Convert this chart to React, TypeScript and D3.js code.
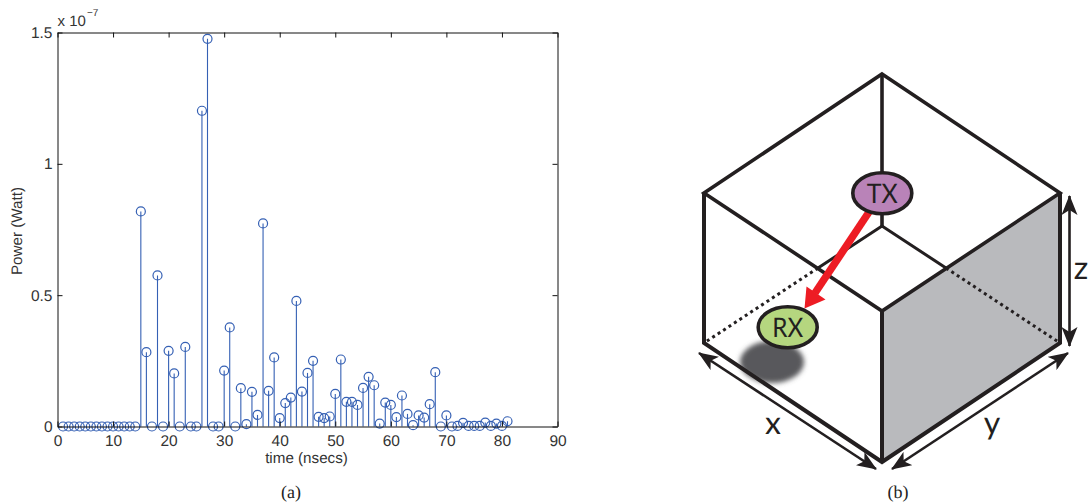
import React, { useEffect, useRef } from "react";
import * as d3 from "d3";

// stem plot values, unit is 1e-7 Watt, first sample is t = 1
const times = d3.range(1, 82);
const power = [
  0, 0, 0, 0, 0, 0, 0, 0, 0, 0, 0, 0, 0, 0,
  0.819, 0.283, 0, 0.575, 0, 0.288, 0.202, 0, 0.303, 0, 0,
  1.202, 1.476, 0, 0, 0.213, 0.377, 0, 0.146, 0.009, 0.132, 0.044,
  0.773, 0.136, 0.263, 0.032, 0.089, 0.11, 0.478, 0.133, 0.204, 0.25,
  0.037, 0.032, 0.038, 0.124, 0.255, 0.094, 0.094, 0.082, 0.147, 0.189,
  0.157, 0.011, 0.091, 0.082, 0.036, 0.118, 0.048, 0.005, 0.042, 0.034,
  0.085, 0.207, 0, 0.042, 0, 0.002, 0.014, 0.002, 0.002, 0.002,
  0.015, 0.002, 0.011, 0.002, 0.02,
];
const xTicks = [0, 10, 20, 30, 40, 50, 60, 70, 80, 90];
const yTicks = [0, 0.5, 1, 1.5];

// corners of the room sketch
const roofTop = [882, 74];
const roofLeft = [704, 193];
const roofRight = [1060, 193];
const roofFront = [882, 311];
const floorBack = [882, 226];
const floorLeft = [704, 343];
const floorRight = [1060, 343];
const floorFront = [882, 462];
const hiddenLeft = [818, 268];
const hiddenRight = [946, 268];

const INK = "#231f20";
const BLUE = "#3560b4";
const TEXT = "#333333";

const line = d3.line();

function App() {
  const plotRef = useRef<SVGGElement>(null);

  useEffect(() => {
    const x = d3.scaleLinear().domain([0, 90]).range([57.5, 557.5]);
    const y = d3.scaleLinear().domain([0, 1.5]).range([426.5, 32.5]);

    const g = d3.select(plotRef.current);
    g.selectAll("*").remove();

    // stems + circles
    g.selectAll(".stem")
      .data(times)
      .enter()
      .append("line")
      .attr("class", "stem")
      .attr("x1", (d) => x(d))
      .attr("x2", (d) => x(d))
      .attr("y1", y(0))
      .attr("y2", (d, i) => y(power[i]))
      .attr("stroke", BLUE)
      .attr("stroke-width", 1.1);

    g.selectAll(".dot")
      .data(times)
      .enter()
      .append("circle")
      .attr("class", "dot")
      .attr("cx", (d) => x(d))
      .attr("cy", (d, i) => y(power[i]))
      .attr("r", 4.5)
      .attr("fill", "none")
      .attr("stroke", BLUE)
      .attr("stroke-width", 1.2);

    // axes on all four sides, ticks point inwards
    const bottom = d3.axisBottom(x).tickValues(xTicks).tickSizeInner(-5).tickSizeOuter(0).tickPadding(8);
    const top = d3.axisTop(x).tickValues(xTicks).tickSizeInner(-5).tickSizeOuter(0).tickFormat(() => "");
    const left = d3.axisLeft(y).tickValues(yTicks).tickSizeInner(-5).tickSizeOuter(0).tickPadding(5).tickFormat((d) => String(d));
    const right = d3.axisRight(y).tickValues(yTicks).tickSizeInner(-5).tickSizeOuter(0).tickFormat(() => "");

    g.append("g").attr("transform", `translate(0,${y(0)})`).call(bottom);
    g.append("g").attr("transform", `translate(0,${y(1.5)})`).call(top);
    g.append("g").attr("transform", `translate(${x(0)},0)`).call(left);
    g.append("g").attr("transform", `translate(${x(90)},0)`).call(right);

    g.selectAll(".tick text")
      .attr("font-family", "Liberation Sans")
      .attr("font-size", 15.5)
      .attr("fill", TEXT);
    g.selectAll(".domain, .tick line").attr("stroke", "#111111");
  }, []);

  return (
    <svg
      width={1088}
      height={504}
      textRendering="geometricPrecision"
      style={{ position: "absolute", left: 0, top: 0, background: "#fff" }}
    >
      <defs>
        <filter id="soft" x="-30%" y="-30%" width="160%" height="160%">
          <feGaussianBlur stdDeviation="2.5" />
        </filter>
        <marker id="head" viewBox="0 0 20 16" refX="19" refY="8" markerWidth="20" markerHeight="16" markerUnits="userSpaceOnUse" orient="auto-start-reverse">
          <path d="M20,8 L0,0 L5,8 L0,16 Z" fill={INK} />
        </marker>
      </defs>

      <g ref={plotRef} />

      <g fontFamily="Liberation Sans" fontSize={15.2} fill={TEXT}>
        <text x={306.5} y={463} textAnchor="middle">time (nsecs)</text>
        <text transform="translate(22,231) rotate(-90)" textAnchor="middle">Power (Watt)</text>
        <text x={57.5} y={26} fontSize={15}>x 10</text>
        <text x={87} y={16} fontSize={10}>−7</text>
      </g>

      {/* room sketch */}
      <path
        d={line([roofFront, roofRight, floorRight, floorFront]) + "Z"}
        fill="#b9babd"
      />
      <ellipse cx={772} cy={362} rx={32} ry={21} fill="#58595b" filter="url(#soft)" />

      <g fill="none" stroke={INK} strokeWidth={3.6}>
        <path d={line([roofTop, floorBack])!} />
        <path d={line([hiddenLeft, floorBack, hiddenRight])!} strokeWidth={3} />
        <path d={line([hiddenLeft, floorLeft])!} strokeWidth={3} strokeDasharray="3 3.5" />
        <path d={line([hiddenRight, floorRight])!} strokeWidth={3} strokeDasharray="3 3.5" />
        <path d={line([roofTop, roofRight, roofFront, roofLeft])! + "Z"} />
        <path d={line([roofLeft, floorLeft, floorFront, floorRight, roofRight])!} strokeWidth={4} />
        <path d={line([roofFront, floorFront])!} strokeWidth={4} />
      </g>

      <g stroke={INK} strokeWidth={2.6} fill="none">
        <path d={line([[1069.5, 196], [1069.5, 346]])!} markerStart="url(#head)" markerEnd="url(#head)" />
        <path d={line([[699, 353], [876, 469]])!} markerStart="url(#head)" markerEnd="url(#head)" />
        <path d={line([[1068, 353], [892, 469]])!} markerStart="url(#head)" markerEnd="url(#head)" />
      </g>

      <path d={line([[869, 212], [815, 293]])!} stroke="#ed1c24" strokeWidth={7.5} fill="none" />
      <path d={line([[804.5, 308.5], [806.5, 286.5], [825.5, 299.5]])! + "Z"} fill="#ed1c24" />

      <ellipse cx={882.3} cy={193.3} rx={29.5} ry={20.5} fill="#b983b8" stroke={INK} strokeWidth={3.6} />
      <ellipse cx={787.7} cy={327.3} rx={29.5} ry={20.5} fill="#b5d67f" stroke={INK} strokeWidth={3.6} />

      <g fontFamily="Lato" fill={INK} textAnchor="middle">
        <text x={882.3} y={203} fontSize={27} textLength={31} lengthAdjust="spacingAndGlyphs">TX</text>
        <text x={787.7} y={337} fontSize={27} textLength={31} lengthAdjust="spacingAndGlyphs">RX</text>
        <text x={1081} y={279} fontSize={32}>z</text>
        <text x={773} y={434} fontSize={32}>x</text>
        <text x={992} y={434} fontSize={32}>y</text>
      </g>

      <g fontFamily="Liberation Serif" fontSize={18} fill="#222" textAnchor="middle">
        <text x={291} y={498}>(a)</text>
        <text x={898} y={498}>(b)</text>
      </g>
    </svg>
  );
}

export default App;
